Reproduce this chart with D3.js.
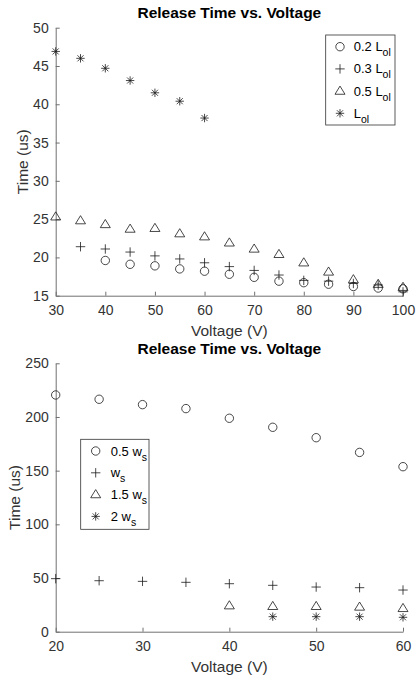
<!DOCTYPE html>
<html>
<head>
<meta charset="utf-8">
<script src="https://cdn.jsdelivr.net/npm/d3@7"></script>
<style>
  body { margin: 0; background: #fff; }
  svg { display: block; font-family: "Liberation Sans", Arial, Helvetica, sans-serif; }
</style>
</head>
<body>
<svg id="chart" width="416" height="681"></svg>
<script>
// Top panel data
const voltsTop = [30, 35, 40, 45, 50, 55, 60, 65, 70, 75, 80, 85, 90, 95, 100];
const lol02 = [null, null, 19.6, 19.1, 18.9, 18.5, 18.2, 17.8, 17.4, 16.9, 16.7, 16.5, 16.2, 16.0, 15.9];
const lol03 = [null, 21.4, 21.1, 20.7, 20.2, 19.8, 19.3, 18.8, 18.3, 17.7, 17.0, 16.9, 16.6, 16.4, 15.5];
const lol05 = [25.3, 24.8, 24.3, 23.7, 23.8, 23.1, 22.7, 21.9, 21.1, 20.4, 19.3, 18.1, 17.1, 16.5, 16.1];
const lol10 = [46.9, 46.0, 44.7, 43.1, 41.5, 40.4, 38.2, null, null, null, null, null, null, null, null];
const topTicksX = [30, 40, 50, 60, 70, 80, 90, 100];
const topTicksY = [15, 20, 25, 30, 35, 40, 45, 50];

// Bottom panel data
const voltsBot = [20, 25, 30, 35, 40, 45, 50, 55, 60];
const ws05 = [220.5, 216.5, 211.5, 207.8, 198.8, 190.4, 180.7, 167.0, 153.7];
const ws10 = [49.4, 47.5, 46.9, 46.0, 44.7, 43.2, 41.6, 41.0, 38.8];
const ws15 = [null, null, null, null, 24.2, 23.6, 23.6, 23.0, 21.7];
const ws20 = [null, null, null, null, null, 14.0, 14.0, 14.0, 13.4];
const botTicksX = [20, 30, 40, 50, 60];
const botTicksY = [0, 50, 100, 150, 200, 250];

const svg = d3.select("#chart");
const axisColor = "#707070";
const textColor = "#333";
const markColor = "#1a1a1a";

// Draw a MATLAB-style marker at (0,0)
function marker(g, kind) {
  const s = 4.2;
  g.attr("fill", "none").attr("stroke", markColor).attr("stroke-width", 0.8);
  if (kind == "o") {
    g.append("circle").attr("r", s);
  } else if (kind == "+") {
    g.append("path").attr("d", `M${-s - 0.5},0H${s + 0.5}M0,${-s - 0.5}V${s + 0.5}`);
  } else if (kind == "^") {
    g.append("path").attr("d", `M0,${-s - 0.8}L${s + 0.8},${s * 0.75}H${-s - 0.8}Z`);
  } else if (kind == "*") {
    const d = s * 0.72;
    g.append("path").attr("d", `M${-s},0H${s}M0,${-s}V${s}M${-d},${-d}L${d},${d}M${-d},${d}L${d},${-d}`);
  }
}

function panel(opt) {
  const x = d3.scaleLinear(opt.xDomain, [55.7, 403]);
  const y = d3.scaleLinear(opt.yDomain, [opt.bottom, opt.top]);
  const g = svg.append("g");

  // Axes (ticks point inward, no box)
  g.append("g")
    .attr("transform", `translate(0,${opt.bottom})`)
    .call(d3.axisBottom(x).tickValues(opt.ticksX).tickSize(-4).tickPadding(9).tickSizeOuter(0))
    .call(a => a.select(".domain").attr("stroke", axisColor).attr("stroke-width", 1))
    .call(a => a.selectAll(".tick line").attr("stroke", axisColor).attr("stroke-width", 1))
    .call(a => a.selectAll(".tick text").attr("fill", textColor).attr("font-size", 14)
      .attr("font-family", "Liberation Sans, Arial, sans-serif"));

  g.append("g")
    .attr("transform", `translate(${x.range()[0]},0)`)
    .call(d3.axisLeft(y).tickValues(opt.ticksY).tickSize(-4).tickPadding(7).tickSizeOuter(0))
    .call(a => a.select(".domain").attr("stroke", axisColor).attr("stroke-width", 1))
    .call(a => a.selectAll(".tick line").attr("stroke", axisColor).attr("stroke-width", 1))
    .call(a => a.selectAll(".tick text").attr("fill", textColor).attr("font-size", 14)
      .attr("font-family", "Liberation Sans, Arial, sans-serif"));

  // Title and labels
  g.append("text")
    .attr("x", (x.range()[0] + x.range()[1]) / 2).attr("y", opt.titleY)
    .attr("text-anchor", "middle").attr("font-weight", "bold").attr("font-size", 15.5)
    .attr("fill", "#000").text("Release Time vs. Voltage");
  g.append("text")
    .attr("x", (x.range()[0] + x.range()[1]) / 2).attr("y", opt.bottom + 40)
    .attr("text-anchor", "middle").attr("font-size", 15.5).attr("fill", textColor)
    .text("Voltage (V)");
  g.append("text")
    .attr("transform", `translate(${opt.yLabelX},${(opt.top + opt.bottom) / 2}) rotate(-90)`)
    .attr("text-anchor", "middle").attr("font-size", 15.5).attr("fill", textColor)
    .text("Time (us)");

  // Series
  opt.series.forEach(s => {
    const pts = opt.volts.map((v, i) => [v, s.values[i]]).filter(d => d[1] != null);
    g.append("g").selectAll("g")
      .data(pts)
      .join("g")
      .attr("transform", d => `translate(${x(d[0])},${y(d[1])})`)
      .each(function () { marker(d3.select(this), s.kind); });
  });

  // Legend
  const lg = g.append("g").attr("transform", `translate(${opt.legend.x},${opt.legend.y})`);
  lg.append("rect").attr("width", opt.legend.w).attr("height", opt.legend.h)
    .attr("fill", "#fff").attr("stroke", "#333").attr("stroke-width", 0.8);
  opt.series.forEach((s, i) => {
    const row = lg.append("g").attr("transform", `translate(0,${opt.legend.first + i * opt.legend.step})`);
    marker(row.append("g").attr("transform", `translate(${opt.legend.mx},0)`), s.kind);
    const t = row.append("text").attr("x", opt.legend.tx).attr("y", 4.5)
      .attr("font-size", 13).attr("fill", "#000");
    t.append("tspan").text(s.label);
    t.append("tspan").attr("dy", 5).attr("font-size", 10.5).text(s.sub);
  });
}

panel({
  xDomain: [30, 100], yDomain: [15, 50], top: 27.7, bottom: 295.7,
  ticksX: topTicksX, ticksY: topTicksY, titleY: 18, yLabelX: 28,
  volts: voltsTop,
  series: [
    { kind: "o", values: lol02, label: "0.2 L", sub: "ol" },
    { kind: "+", values: lol03, label: "0.3 L", sub: "ol" },
    { kind: "^", values: lol05, label: "0.5 L", sub: "ol" },
    { kind: "*", values: lol10, label: "L", sub: "ol" }
  ],
  legend: { x: 325.7, y: 35, w: 69.3, h: 90, first: 11.7, step: 22.2, mx: 14.3, tx: 28 }
});

panel({
  xDomain: [20, 60], yDomain: [0, 250], top: 363.3, bottom: 631.7,
  ticksX: botTicksX, ticksY: botTicksY, titleY: 354, yLabelX: 20,
  volts: voltsBot,
  series: [
    { kind: "o", values: ws05, label: "0.5 w", sub: "s" },
    { kind: "+", values: ws10, label: "w", sub: "s" },
    { kind: "^", values: ws15, label: "1.5 w", sub: "s" },
    { kind: "*", values: ws20, label: "2 w", sub: "s" }
  ],
  legend: { x: 80.7, y: 439.3, w: 68.3, h: 90, first: 11.7, step: 21.8, mx: 15, tx: 30 }
});
</script>
</body>
</html>
